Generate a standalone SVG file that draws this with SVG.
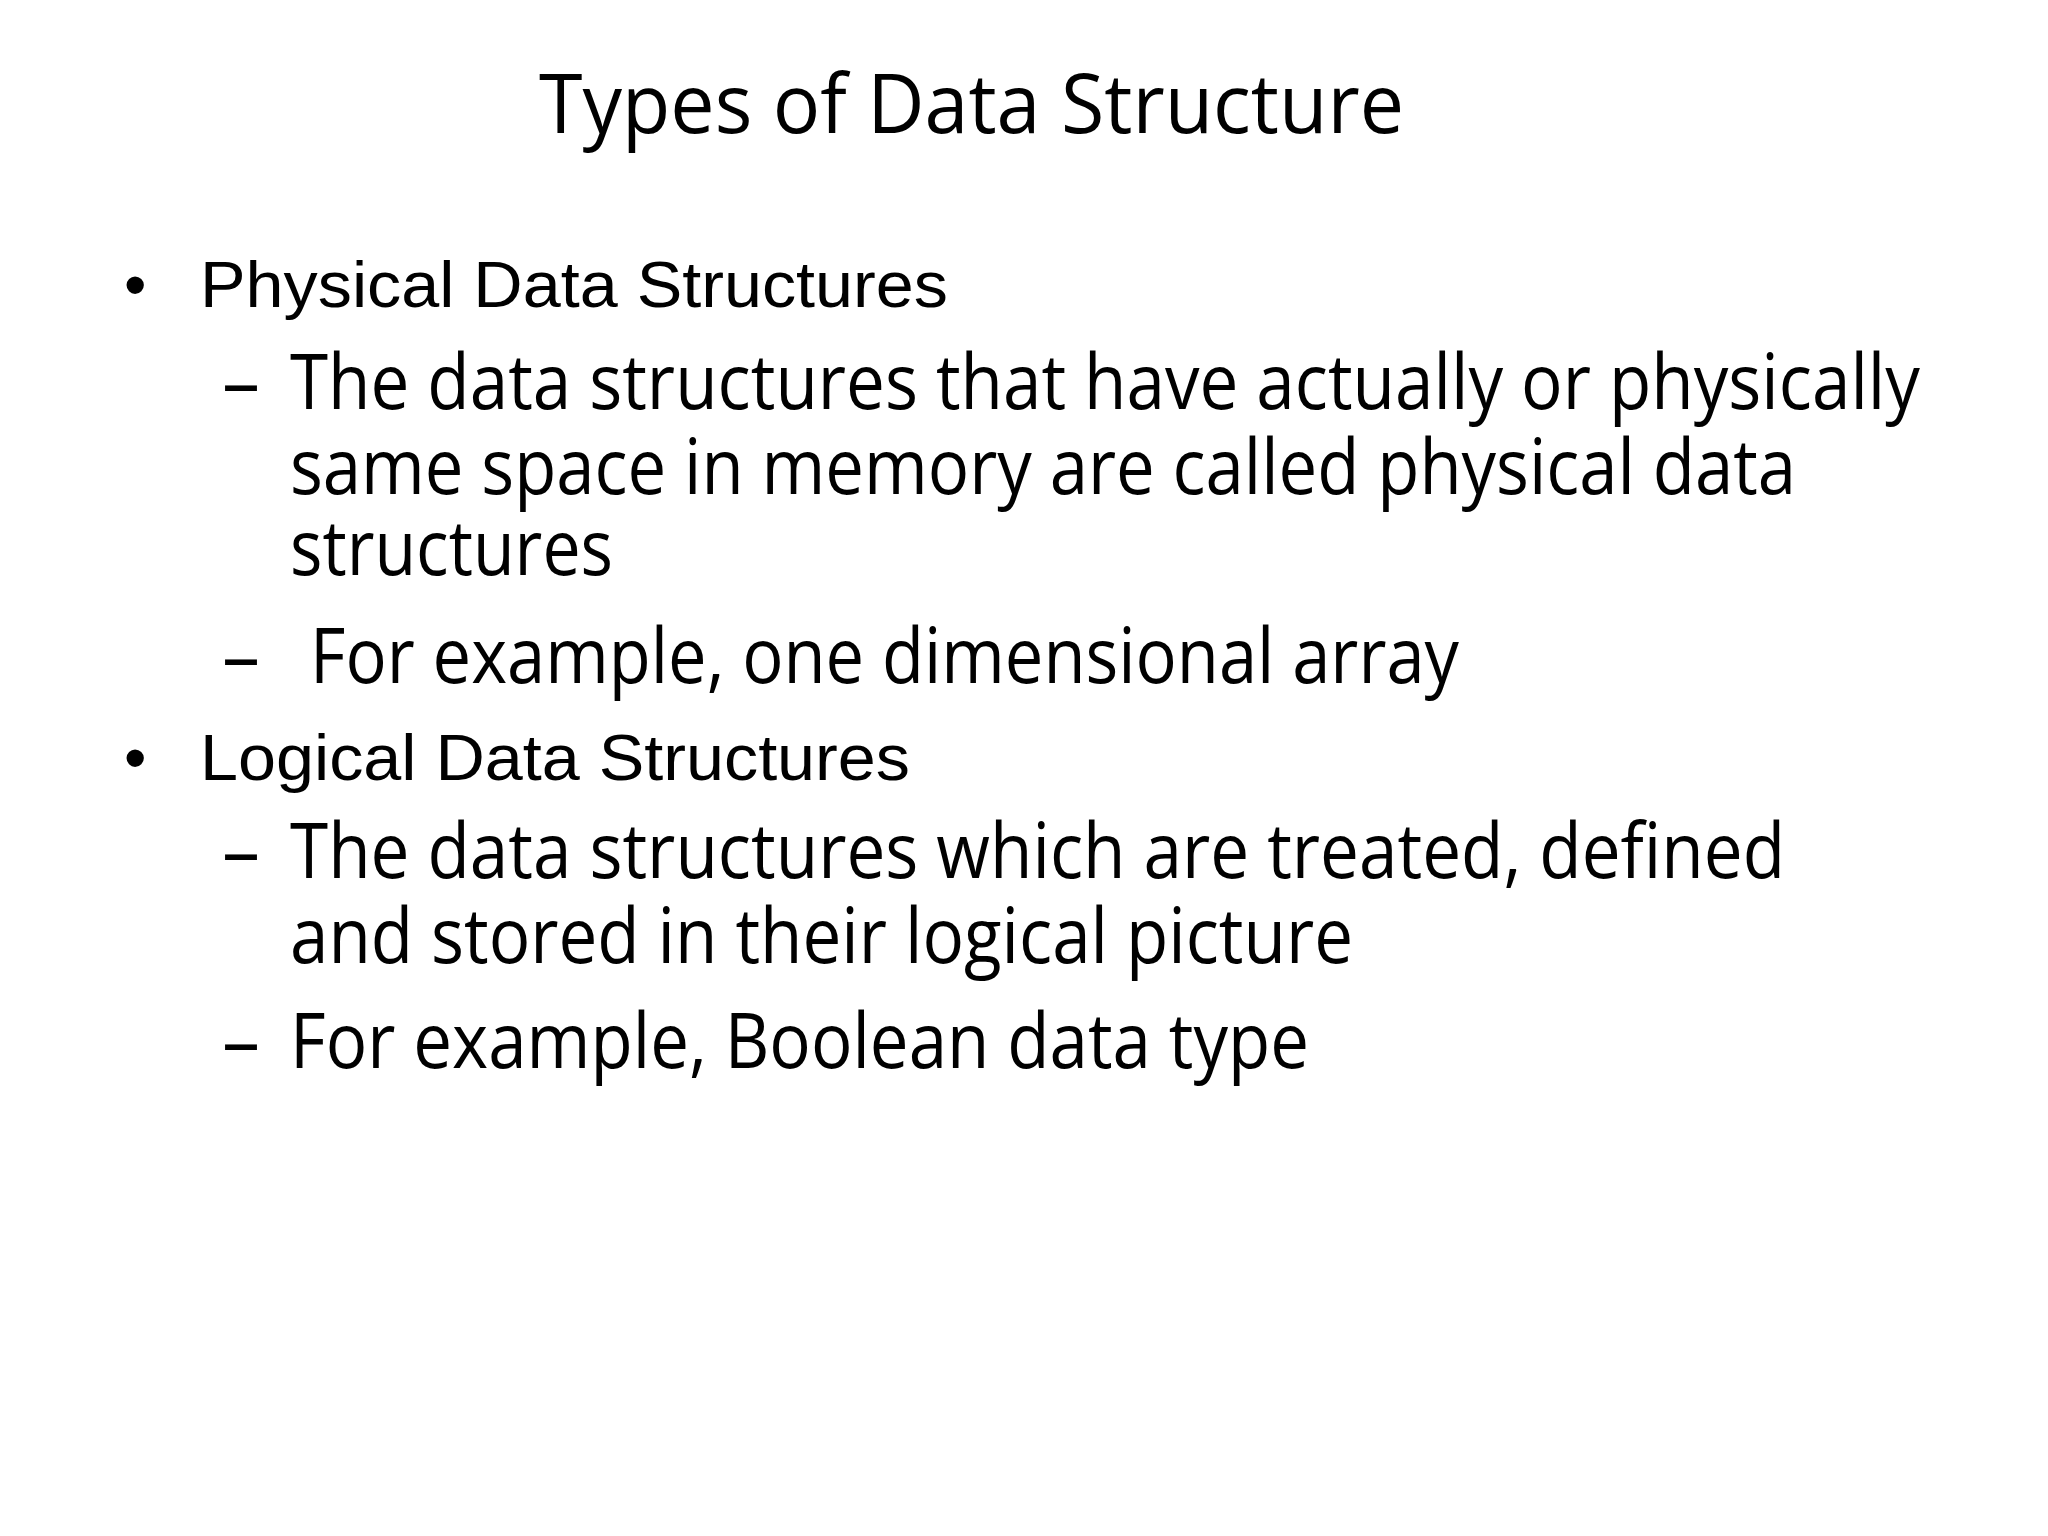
<svg xmlns="http://www.w3.org/2000/svg" width="2048" height="1536" viewBox="0 0 2048 1536">
<style>
.t{font-family:"Open Sans","Liberation Sans",sans-serif;fill:#000}
.a{font-family:"Liberation Sans",Arial,sans-serif;fill:#000;font-size:64px}
.s{font-family:"Open Sans","Liberation Sans",sans-serif;fill:#000;font-size:76px}
</style>
<rect width="2048" height="1536" fill="#fff"/>
<text class="t" x="539" y="133" font-size="82" textLength="865" lengthAdjust="spacingAndGlyphs">Types of Data Structure</text>
<text class="a" x="124" y="307">•</text>
<text class="a" x="200" y="307" textLength="748" lengthAdjust="spacingAndGlyphs">Physical Data Structures</text>
<text class="s" x="222" y="409">–</text>
<text class="s" x="290" y="409" textLength="1630" lengthAdjust="spacingAndGlyphs">The data structures that have actually or physically</text>
<text class="s" x="290" y="494" textLength="1506" lengthAdjust="spacingAndGlyphs">same space in memory are called physical data</text>
<text class="s" x="290" y="575" textLength="323" lengthAdjust="spacingAndGlyphs">structures</text>
<text class="s" x="222" y="683">–</text>
<text class="s" x="310" y="683" textLength="1149" lengthAdjust="spacingAndGlyphs">For example, one dimensional array</text>
<text class="a" x="124" y="780">•</text>
<text class="a" x="200" y="780" textLength="710" lengthAdjust="spacingAndGlyphs">Logical Data Structures</text>
<text class="s" x="222" y="878">–</text>
<text class="s" x="290" y="878" textLength="1495" lengthAdjust="spacingAndGlyphs">The data structures which are treated, defined</text>
<text class="s" x="290" y="963" textLength="1063" lengthAdjust="spacingAndGlyphs">and stored in their logical picture</text>
<text class="s" x="222" y="1068">–</text>
<text class="s" x="290" y="1068" textLength="1019" lengthAdjust="spacingAndGlyphs">For example, Boolean data type</text>
</svg>
